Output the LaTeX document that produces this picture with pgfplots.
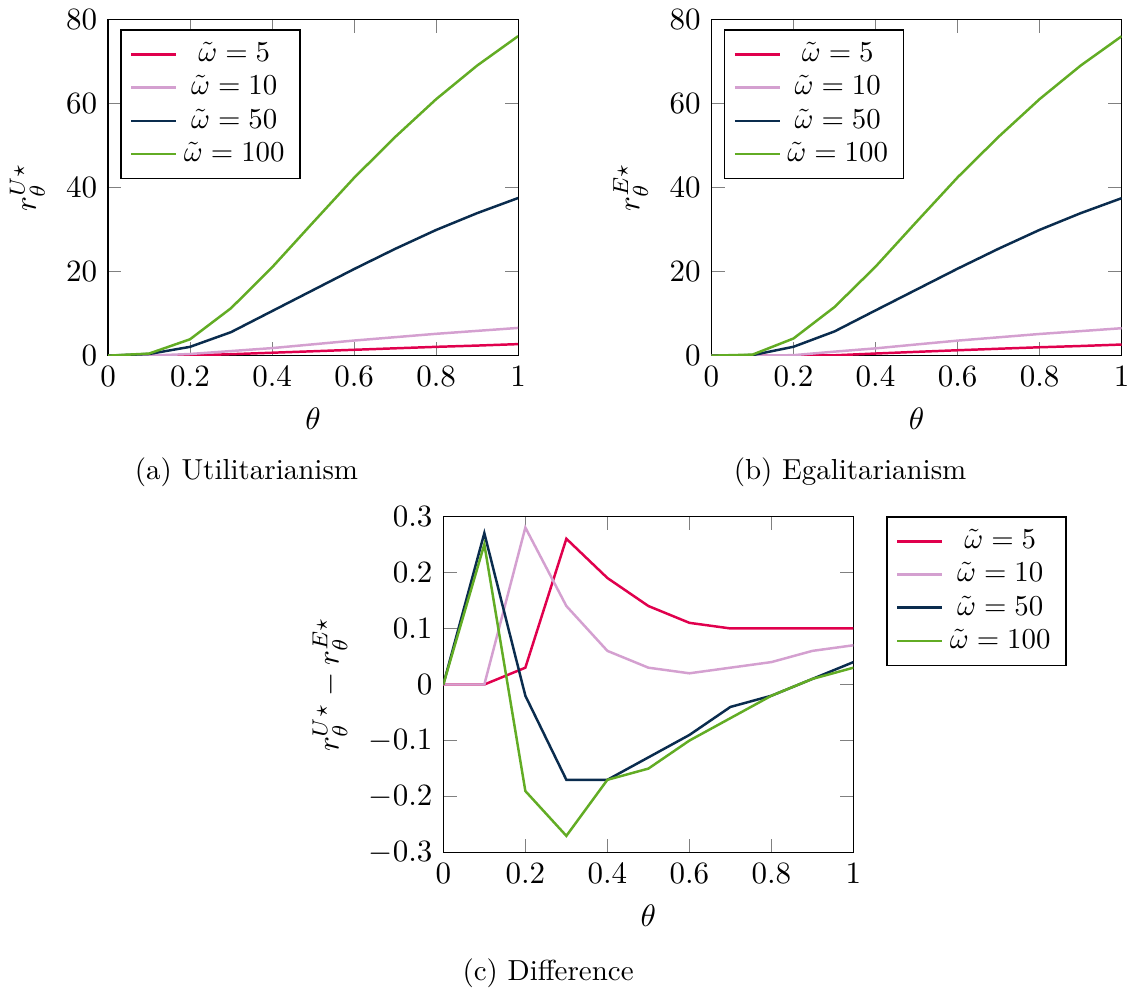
\documentclass[border=0pt]{standalone}
\usepackage{graphicx}
\usepackage{pgfplots}
\pgfplotsset{compat=1.18}
\definecolor{cA}{RGB}{224,0,77}
\definecolor{cB}{RGB}{212,160,208}
\definecolor{cC}{RGB}{10,44,78}
\definecolor{cD}{RGB}{98,172,36}
\newcommand{\legw}[1]{\scalebox{0.93}{$\tilde\omega=#1$}}
\pgfplotsset{
  every axis plot/.append style={line width=0.8pt},
  legend image code/.code={\draw[#1] (0cm,0cm) -- (0.51cm,0cm);},
  myax/.style={
    scale only axis, width=132.3pt, height=108.5pt,
    xmin=0, xmax=1, xtick={0,0.2,...,1},
    xlabel={$\theta$},
    legend cell align=center,
    legend style={row sep=-1pt},
  }
}
\begin{document}
\begin{tikzpicture}
\useasboundingbox (0,0) rectangle (364.5pt,318.7pt);
% (a)
\begin{axis}[myax, at={(34.84pt,203.97pt)}, anchor=south west,
  ymin=0, ymax=80, ytick={0,20,40,60,80},
  ylabel={$r_\theta^{U\star}$},
  legend pos=north west]
\addplot[cA] coordinates {(0,0) (0.1,0) (0.2,0.05) (0.3,0.35) (0.4,0.7) (0.5,1.05) (0.6,1.4) (0.7,1.75) (0.8,2.1) (0.9,2.4) (1,2.75)};
\addplot[cB] coordinates {(0,0) (0.1,0) (0.2,0.4) (0.3,1.1) (0.4,1.8) (0.5,2.7) (0.6,3.6) (0.7,4.4) (0.8,5.2) (0.9,5.9) (1,6.6)};
\addplot[cC] coordinates {(0,0) (0.1,0.4) (0.2,2.1) (0.3,5.6) (0.4,10.6) (0.5,15.6) (0.6,20.6) (0.7,25.4) (0.8,29.9) (0.9,33.9) (1,37.5)};
\addplot[cD] coordinates {(0,0) (0.1,0.5) (0.2,3.9) (0.3,11.3) (0.4,21.0) (0.5,31.7) (0.6,42.3) (0.7,52.0) (0.8,61.0) (0.9,69.0) (1,76.0)};
\legend{\legw{5},\legw{10},\legw{50},\legw{100}}
\end{axis}
% (b)
\begin{axis}[myax, at={(229.5pt,203.97pt)}, anchor=south west,
  ymin=0, ymax=80, ytick={0,20,40,60,80},
  ylabel={$r_\theta^{E\star}$},
  legend pos=north west]
\addplot[cA] coordinates {(0,0) (0.1,0) (0.2,0.02) (0.3,0.09) (0.4,0.51) (0.5,0.91) (0.6,1.29) (0.7,1.65) (0.8,2.0) (0.9,2.3) (1,2.65)};
\addplot[cB] coordinates {(0,0) (0.1,0) (0.2,0.12) (0.3,0.96) (0.4,1.74) (0.5,2.67) (0.6,3.58) (0.7,4.37) (0.8,5.16) (0.9,5.84) (1,6.53)};
\addplot[cC] coordinates {(0,0) (0.1,0.13) (0.2,2.12) (0.3,5.77) (0.4,10.77) (0.5,15.73) (0.6,20.69) (0.7,25.44) (0.8,29.92) (0.9,33.89) (1,37.46)};
\addplot[cD] coordinates {(0,0) (0.1,0.25) (0.2,4.09) (0.3,11.57) (0.4,21.17) (0.5,31.85) (0.6,42.4) (0.7,52.06) (0.8,61.02) (0.9,68.99) (1,75.97)};
\legend{\legw{5},\legw{10},\legw{50},\legw{100}}
\end{axis}
% (c)
\begin{axis}[myax, at={(143.0pt,43.65pt)}, anchor=south west,
  ymin=-0.3, ymax=0.3, ytick={-0.3,-0.2,-0.1,0,0.1,0.2,0.3},
  ylabel={$r_\theta^{U\star}-r_\theta^{E\star}$},
  legend style={at={(1.08,1)}, anchor=north west}]
\addplot[cA] coordinates {(0,0) (0.1,0) (0.2,0.03) (0.3,0.26) (0.4,0.19) (0.5,0.14) (0.6,0.11) (0.7,0.10) (0.8,0.10) (0.9,0.10) (1,0.10)};
\addplot[cB] coordinates {(0,0) (0.1,0) (0.2,0.28) (0.3,0.14) (0.4,0.06) (0.5,0.03) (0.6,0.02) (0.7,0.03) (0.8,0.04) (0.9,0.06) (1,0.07)};
\addplot[cC] coordinates {(0,0) (0.1,0.27) (0.2,-0.02) (0.3,-0.17) (0.4,-0.17) (0.5,-0.13) (0.6,-0.09) (0.7,-0.04) (0.8,-0.02) (0.9,0.01) (1,0.04)};
\addplot[cD] coordinates {(0,0) (0.1,0.25) (0.2,-0.19) (0.3,-0.27) (0.4,-0.17) (0.5,-0.15) (0.6,-0.10) (0.7,-0.06) (0.8,-0.02) (0.9,0.01) (1,0.03)};
\legend{\legw{5},\legw{10},\legw{50},\legw{100}}
\end{axis}
\node at (79.5pt,166.3pt) {\scalebox{0.935}{(a) Utilitarianism}};
\node at (274.2pt,166.3pt) {\scalebox{0.935}{(b) Egalitarianism}};
\node at (176.8pt,4.84pt) {\scalebox{0.935}{(c) Difference}};
\end{tikzpicture}
\end{document}
